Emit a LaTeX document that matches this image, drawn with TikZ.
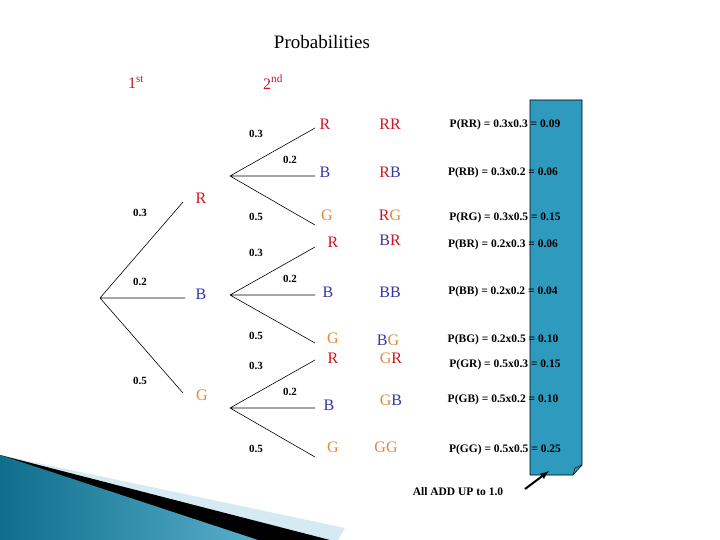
\documentclass[tikz,border=0pt]{standalone}
\usepackage{fontspec}
\setmainfont{Liberation Serif}
\definecolor{cR}{HTML}{CC1520}
\definecolor{cB}{HTML}{3535A5}
\definecolor{cG}{HTML}{E0873A}
\definecolor{teal}{HTML}{2E9BBE}
\definecolor{dteal}{HTML}{0E6E8C}
\definecolor{lteal}{HTML}{D5EAF2}
\begin{document}
\begin{tikzpicture}[x=1pt,y=-1pt,
 pr/.style={font=\fontsize{11}{12}\selectfont\bfseries},
 lab/.style={font=\fontsize{16}{17}\selectfont},
 eq/.style={font=\fontsize{11.5}{12}\selectfont\bfseries},
 br/.style={black,line width=0.6pt}]
\useasboundingbox (0,0) rectangle (720,540);
\fill[lteal] (0,455) -- (345,528) -- (338,540) -- (0,540) -- cycle;
\fill[black] (0,455) -- (330,540) -- (0,540) -- cycle;
\shade[left color=dteal,right color=teal!80!white] (0,455) -- (258,540) -- (0,540) -- cycle;
\node[font=\fontsize{19}{20}\selectfont] (title) at (322,42) {Probabilities};
\node[lab,text=cR] (first) at (136,82) {1\textsuperscript{st}};
\node[lab,text=cR] (second) at (273,82) {2\textsuperscript{nd}};
\coordinate (root) at (100,298);
\coordinate (eR) at (183,202); \coordinate (eB) at (185,298); \coordinate (eG) at (183,393);
\draw[br] (root)--(eR) (root)--(eB) (root)--(eG);
\node[lab,text=cR] (R1) at (201,198) {R};
\node[lab,text=cB] (B1) at (201,294) {B};
\node[lab,text=cG] (G1) at (202,395) {G};
\node[pr] at (140,213) {0.3}; \node[pr] at (140,282) {0.2}; \node[pr] at (140,381) {0.5};
\foreach \y/\a/\b/\c in {176/128/176/225, 295/247/295/343, 408/360/408/457}{
 \coordinate (s) at (230,\y);
 \draw[br] (s)--(315,\a) (s)--(315,\b) (s)--(315,\c);
 \node[pr] at (256,\y-42) {0.3};
 \node[pr] at (290,\y-16) {0.2};
 \node[pr] at (256,\y+41) {0.5};
}
\node[lab,text=cR] at (325,124) {R};
\node[lab,text=cB] at (325,172) {B};
\node[lab,text=cG] at (327,215) {G};
\node[lab,text=cR] at (333,242) {R};
\node[lab,text=cB] at (328,292) {B};
\node[lab,text=cG] at (333,338) {G};
\node[lab,text=cR] at (333,358) {R};
\node[lab,text=cB] at (329,405) {B};
\node[lab,text=cG] at (333,447) {G};
\node[lab] at (390,124) {\textcolor{cR}{RR}};
\node[lab] at (390,172) {\textcolor{cR}{R}\textcolor{cB}{B}};
\node[lab] at (390,215) {\textcolor{cR}{R}\textcolor{cG}{G}};
\node[lab] at (390,240) {\textcolor{cB}{B}\textcolor{cR}{R}};
\node[lab] at (390,292) {\textcolor{cB}{BB}};
\node[lab] at (388,340) {\textcolor{cB}{B}\textcolor{cG}{G}};
\node[lab] at (391,358) {\textcolor{cG}{G}\textcolor{cR}{R}};
\node[lab] at (391,400) {\textcolor{cG}{G}\textcolor{cB}{B}};
\node[lab] at (386,447) {\textcolor{cG}{GG}};
\fill[teal,draw=black,line width=0.6pt] (530,100) -- (582,100) -- (582,465) -- (573,475) -- (530,475) -- cycle;
\draw[black,line width=0.5pt] (573,475) -- (575,468) -- (582,465);
\node[eq] at (505,125) {P(RR) = 0.3x0.3 = 0.09};
\node[eq] at (503,173) {P(RB) = 0.3x0.2 = 0.06};
\node[eq] at (505,218) {P(RG) = 0.3x0.5 = 0.15};
\node[eq] at (503,245) {P(BR) = 0.2x0.3 = 0.06};
\node[eq] at (503,292) {P(BB) = 0.2x0.2 = 0.04};
\node[eq] at (503,340) {P(BG) = 0.2x0.5 = 0.10};
\node[eq] at (505,365) {P(GR) = 0.5x0.3 = 0.15};
\node[eq] at (503,400) {P(GB) = 0.5x0.2 = 0.10};
\node[eq] at (505,450) {P(GG) = 0.5x0.5 = 0.25};
\node[eq] (all) at (458,492) {All ADD UP to 1.0};
\coordinate (at) at (549,471);
\draw[-latex,line width=2pt] (525,489) -- (at);
\end{tikzpicture}
\end{document}
